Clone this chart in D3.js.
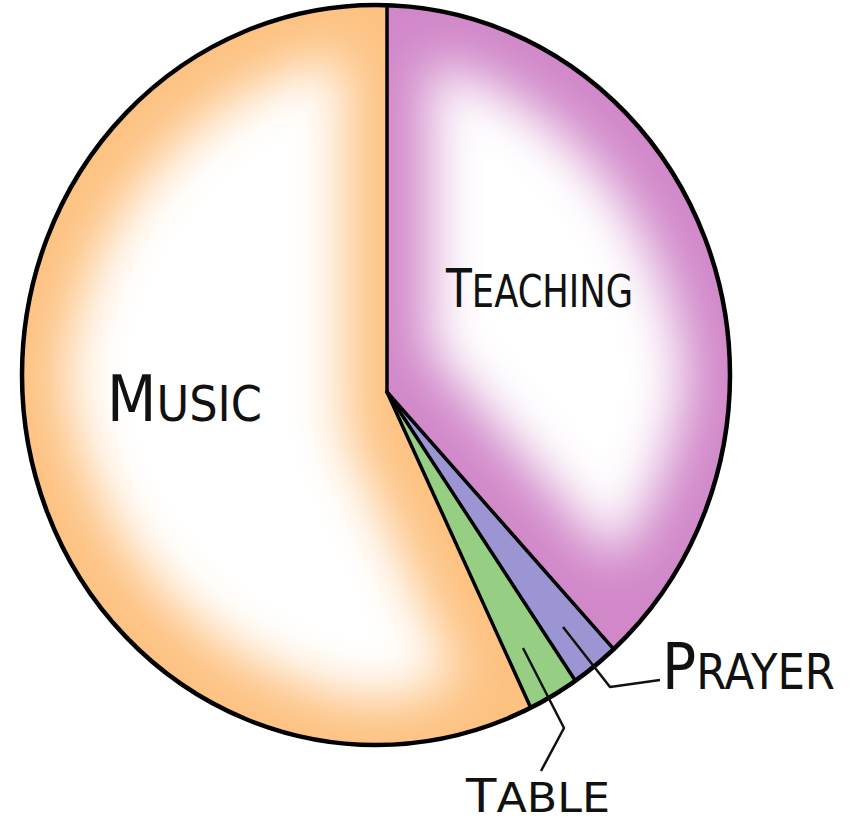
<!DOCTYPE html>
<html>
<head>
<meta charset="utf-8">
<script src="https://cdn.jsdelivr.net/npm/d3@7"></script>
<style>
  body { margin: 0; background: #fff; }
  text { font-family: "DejaVu Sans", sans-serif; fill: #111; }
</style>
</head>
<body>
<div class="container"></div>
<script>
const categories = ['Teaching', 'Prayer', 'Table', 'Music'];
const shares = [38.5, 2.3, 2.4, 56.8];
const colors = ['#d188c9', '#9c95d3', '#96cf84', '#fdc282'];
const glowing = ['Teaching', 'Music'];

const width = 849;
const height = 820;

// the hand drawn pie is a slightly squashed ellipse, apex a bit off centre
const oval = { cx: 376, cy: 375, rx: 354, ry: 370 };
const apex = { x: 387, y: 392 };

// label placement: start x, baseline y, total width, big/small font size
const labelPos = {
    Music: { x: 107, y: 421, w: 155, big: 64, small: 50 },
    Teaching: { x: 446, y: 307, w: 187, big: 54, small: 45 },
    Prayer: { x: 662, y: 689, w: 173, big: 64, small: 49 },
    Table: { x: 466, y: 812, w: 144, big: 46, small: 41 }
};
const leaders = {
    Prayer: [[563, 627], [610, 687], [660, 680]],
    Table: [[523, 648], [564, 728], [541, 771]]
};

const svg = d3.select('.container')
    .append('svg')
    .attr('width', width)
    .attr('height', height);

const defs = svg.append('defs');
const glow = defs.append('filter')
    .attr('id', 'glow')
    .attr('filterUnits', 'userSpaceOnUse')
    .attr('x', 0).attr('y', 0)
    .attr('width', width).attr('height', height);
glow.append('feMorphology').attr('operator', 'erode').attr('radius', 42);
glow.append('feGaussianBlur').attr('stdDeviation', 26);

// where a ray from the apex hits the ellipse
function hit(angle) {
    const ux = Math.sin(angle), uy = -Math.cos(angle);
    const px = (apex.x - oval.cx) / oval.rx, py = (apex.y - oval.cy) / oval.ry;
    const vx = ux / oval.rx, vy = uy / oval.ry;
    const a = vx * vx + vy * vy;
    const b = 2 * (px * vx + py * vy);
    const c = px * px + py * py - 1;
    const t = (-b + Math.sqrt(b * b - 4 * a * c)) / (2 * a);
    return [apex.x + t * ux, apex.y + t * uy];
}

function phi(p) {
    return Math.atan2((p[1] - oval.cy) / oval.ry, (p[0] - oval.cx) / oval.rx);
}

function slicePath(d) {
    const p0 = hit(d.startAngle), p1 = hit(d.endAngle);
    let delta = phi(p1) - phi(p0);
    while (delta < 0) delta += 2 * Math.PI;
    const large = delta > Math.PI ? 1 : 0;
    return 'M' + apex.x + ',' + apex.y +
        'L' + p0[0] + ',' + p0[1] +
        'A' + oval.rx + ',' + oval.ry + ' 0 ' + large + ' 1 ' + p1[0] + ',' + p1[1] + 'Z';
}

const pie = d3.pie().sort(null).value(d => d);
const arcs = pie(shares).map((d, i) => Object.assign(d, { name: categories[i], color: colors[i] }));

arcs.forEach((d, i) => {
    defs.append('clipPath').attr('id', 'clip' + i)
        .append('path').attr('d', slicePath(d));
});

const G = svg.append('g');

G.selectAll('path.slice')
    .data(arcs)
    .join('path')
    .attr('class', 'slice')
    .attr('d', slicePath)
    .style('fill', d => d.color);

G.selectAll('path.glow')
    .data(arcs.filter(d => glowing.includes(d.name)))
    .join('path')
    .attr('class', 'glow')
    .attr('d', slicePath)
    .attr('clip-path', d => 'url(#clip' + arcs.indexOf(d) + ')')
    .attr('filter', 'url(#glow)')
    .style('fill', '#fff');

// slice borders
G.selectAll('line.edge')
    .data(arcs)
    .join('line')
    .attr('class', 'edge')
    .attr('x1', apex.x)
    .attr('y1', apex.y)
    .attr('x2', d => hit(d.startAngle)[0])
    .attr('y2', d => hit(d.startAngle)[1])
    .style('stroke', '#000')
    .style('stroke-width', 3.5)
    .style('stroke-linecap', 'round');

G.append('ellipse')
    .attr('cx', oval.cx)
    .attr('cy', oval.cy)
    .attr('rx', oval.rx)
    .attr('ry', oval.ry)
    .style('fill', 'none')
    .style('stroke', '#000')
    .style('stroke-width', 4.5);

G.selectAll('polyline')
    .data(Object.values(leaders))
    .join('polyline')
    .attr('points', d => d.join(' '))
    .style('fill', 'none')
    .style('stroke', '#111')
    .style('stroke-width', 2.5)
    .style('stroke-linejoin', 'round');

// hand lettered small caps labels
const label = G.selectAll('text')
    .data(categories)
    .join('text')
    .attr('x', d => labelPos[d].x)
    .attr('y', d => labelPos[d].y)
    .attr('textLength', d => labelPos[d].w)
    .attr('lengthAdjust', 'spacingAndGlyphs');
label.append('tspan')
    .style('font-size', d => labelPos[d].big + 'px')
    .text(d => d[0].toUpperCase());
label.append('tspan')
    .style('font-size', d => labelPos[d].small + 'px')
    .text(d => d.slice(1).toUpperCase());
</script>
</body>
</html>
